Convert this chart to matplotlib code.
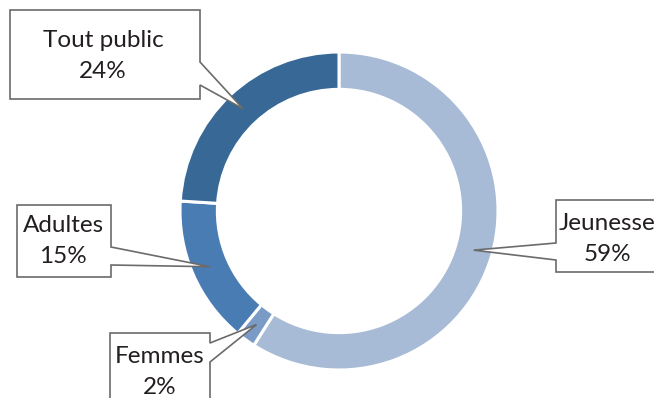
import numpy as np
import matplotlib
matplotlib.use("Agg")
import matplotlib.pyplot as plt
from matplotlib.patches import Polygon

categories = ["Jeunesse", "Femmes", "Adultes", "Tout public"]
values = [59, 2, 15, 24]
colors = ["#A7BBD6", "#7A9BC6", "#4A7CB4", "#376896"]

W, H = 654, 398
fig = plt.figure(figsize=(W / 100, H / 100), dpi=100)
ax = fig.add_axes([0, 0, 1, 1])

cx, cy = 339, H - 211
R = 159
width = 0.235
ax.pie(values, colors=colors, startangle=90, counterclock=False,
       radius=R, center=(cx, cy),
       wedgeprops=dict(width=R * width, edgecolor="white", linewidth=2.2))
ax.set_xlim(0, W)
ax.set_ylim(0, H)
ax.set_aspect("equal")
ax.axis("off")

boxes = {
    "Tout public": dict(box=(10, 10, 200, 99), side="right", py=(62, 85), text=(103, 56)),
    "Adultes": dict(box=(17, 205, 111, 277), side="right", py=(247, 265), text=(63, 241)),
    "Femmes": dict(box=(110, 333, 210, 410), side="right", py=(343, 362), text=(160, 372)),
    "Jeunesse": dict(box=(556, 200, 670, 272), side="left", py=(243, 260), text=(607, 239)),
}

total = sum(values)
start = 90.0
rmid = R * (1 - width / 2)
for cat, v in zip(categories, values):
    span = 360.0 * v / total
    mid = np.deg2rad(start - span / 2)
    start -= span
    tx = cx + rmid * np.cos(mid)
    ty = cy + rmid * np.sin(mid)
    b = boxes[cat]
    x0, yt, x1, yb = b["box"]
    p0, p1 = b["py"]
    Yt, Yb = H - yt, H - yb
    if b["side"] == "right":
        pts = [(x0, Yt), (x1, Yt), (x1, H - p0), (tx, ty), (x1, H - p1), (x1, Yb), (x0, Yb)]
    else:
        pts = [(x0, Yt), (x1, Yt), (x1, Yb), (x0, Yb), (x0, H - p1), (tx, ty), (x0, H - p0)]
    ax.add_patch(Polygon(pts, closed=True, facecolor="white", edgecolor="#6b6b6b",
                         linewidth=1.2, zorder=5, clip_on=False))
    tcx, tcy = b["text"]
    ax.text(tcx, H - tcy, f"{cat}\n{v}%", ha="center", va="center", fontsize=17.5,
            family="Lato", color="#231f20", linespacing=1.6, zorder=6)

fig.savefig("out.png", dpi=100)
